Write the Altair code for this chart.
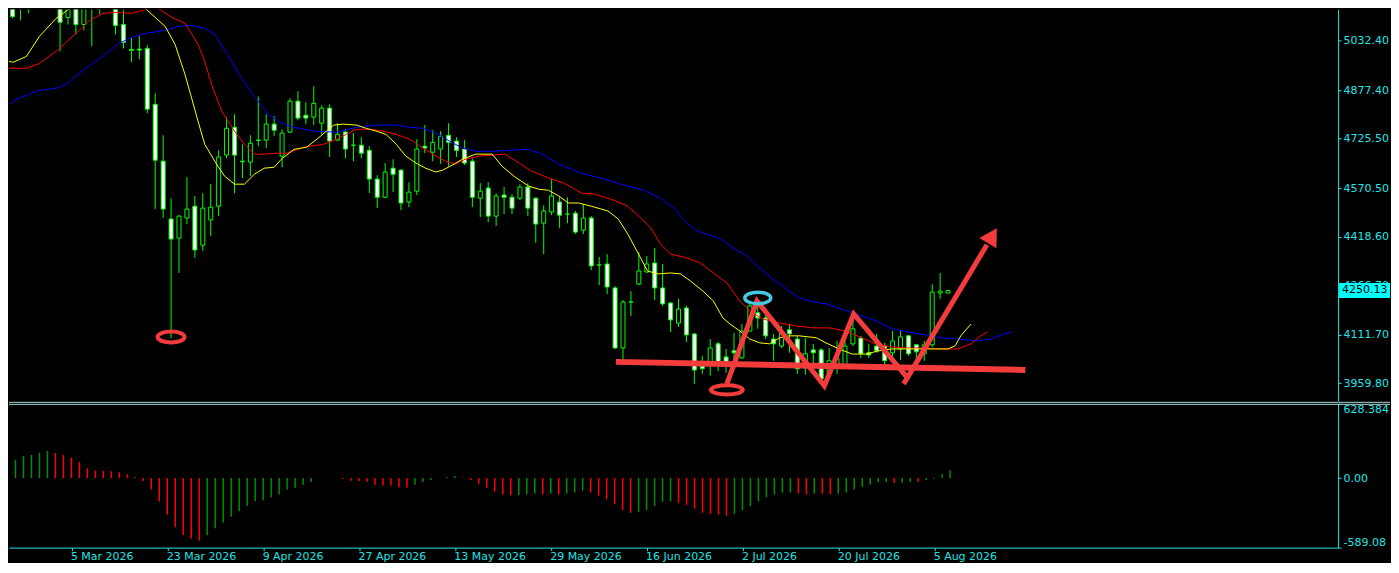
import altair as alt
import pandas as pd

# ---- candles (bar 0 = oldest visible bar) ----
opens = [5187, 5175, 5160, 5170, 5200, 5215, 5195, 5105, 5149, 5083,
         5175, 5165, 5170, 5185, 5083, 5005, 5006, 5008, 4833, 4655,
         4474, 4414, 4477, 4514, 4392, 4471, 4514, 4674, 4761, 4655,
         4652, 4721, 4721, 4771, 4671, 4746, 4843, 4799, 4793, 4774,
         4821, 4721, 4746, 4705, 4705, 4689, 4599, 4542, 4633, 4627,
         4527, 4561, 4702, 4683, 4693, 4736, 4718, 4693, 4655, 4539,
         4571, 4483, 4549, 4542, 4539, 4574, 4539, 4461, 4496, 4527,
         4489, 4492, 4439, 4477, 4330, 4333, 4258, 4070, 4214, 4270,
         4308, 4336, 4258, 4211, 4148, 4195, 4114, 4014, 4026, 4083,
         4042, 4061, 4039, 4123, 4180, 4164, 4098, 4076, 4127, 4098,
         4008, 4064, 4064, 3989, 4014, 4014, 4083, 4101, 4055, 4076,
         4076, 4055, 4067, 4108, 4080, 4052, 4080, 4242, 4242]
highs = [5218, 5190, 5170, 5205, 5230, 5240, 5210, 5160, 5165, 5180,
         5190, 5185, 5200, 5195, 5130, 5040, 5046, 5018, 4868, 4736,
         4539, 4486, 4605, 4546, 4555, 4583, 4689, 4793, 4802, 4708,
         4736, 4858, 4802, 4796, 4755, 4852, 4874, 4840, 4890, 4830,
         4833, 4774, 4755, 4743, 4730, 4702, 4611, 4649, 4661, 4630,
         4589, 4724, 4768, 4752, 4749, 4774, 4730, 4721, 4664, 4586,
         4589, 4555, 4574, 4552, 4583, 4586, 4542, 4517, 4599, 4546,
         4542, 4499, 4521, 4483, 4355, 4364, 4264, 4220, 4248, 4370,
         4358, 4383, 4333, 4214, 4224, 4202, 4117, 4045, 4098, 4089,
         4067, 4117, 4145, 4211, 4211, 4195, 4114, 4139, 4145, 4108,
         4102, 4083, 4070, 4070, 4092, 4108, 4155, 4108, 4083, 4114,
         4086, 4123, 4123, 4111, 4083, 4092, 4270, 4305, 4252]
lows = [5102, 5096, 5118, 5133, 5165, 5175, 4999, 5083, 5052, 5065,
        5015, 5115, 5162, 5052, 5008, 4965, 4974, 4805, 4505, 4477,
        4101, 4305, 4458, 4352, 4374, 4421, 4483, 4664, 4555, 4602,
        4608, 4702, 4696, 4733, 4636, 4743, 4783, 4771, 4768, 4739,
        4668, 4718, 4664, 4655, 4664, 4555, 4508, 4539, 4558, 4502,
        4511, 4549, 4680, 4655, 4646, 4639, 4668, 4643, 4511, 4480,
        4464, 4452, 4489, 4489, 4533, 4483, 4399, 4364, 4486, 4446,
        4461, 4427, 4427, 4314, 4267, 4239, 4067, 4033, 4170, 4267,
        4305, 4220, 4202, 4120, 4136, 4089, 3958, 3989, 3983, 3998,
        3992, 4008, 4036, 4123, 4130, 4098, 4030, 4070, 4055, 3989,
        3986, 4008, 3967, 3976, 3989, 4005, 4076, 4039, 4039, 4055,
        4020, 4030, 4033, 4045, 4026, 4030, 4073, 4224, 4242]
closes = [5108, 5146, 5146, 5195, 5215, 5190, 5090, 5143, 5083, 5165,
          5137, 5149, 5190, 5080, 5027, 5002, 5003, 4818, 4658, 4505,
          4411, 4483, 4505, 4377, 4508, 4511, 4668, 4758, 4674, 4653,
          4711, 4720, 4771, 4752, 4743, 4843, 4790, 4790, 4836, 4821,
          4718, 4739, 4693, 4705, 4680, 4599, 4542, 4621, 4614, 4524,
          4558, 4693, 4696, 4714, 4733, 4714, 4689, 4649, 4542, 4561,
          4483, 4546, 4542, 4508, 4574, 4508, 4458, 4499, 4546, 4486,
          4489, 4433, 4477, 4327, 4330, 4261, 4070, 4214, 4214, 4311,
          4333, 4258, 4208, 4158, 4192, 4111, 4001, 4005, 4070, 4020,
          4023, 4055, 4123, 4202, 4164, 4108, 4083, 4117, 4114, 4005,
          4052, 4055, 3973, 4030, 4036, 4076, 4130, 4052, 4048, 4061,
          4030, 4092, 4105, 4052, 4058, 4080, 4245, 4248, 4250.13]

# ---- Alligator lines (bar position, price) ----
lips_bar = [-0.75, 0.1, 1.75, 3.4, 5.5, 7.6, 9.6, 11.75, 13, 15.1, 16.75, 19.25, 20.5,
            21.75, 22.6, 23.4, 24.25, 25.5, 26.75, 28, 29.25, 30.5, 31.75, 33, 33.9,
            35.5, 37.1, 38.4, 39.6, 40.5, 41.75, 43.4, 44.6, 45.9, 47.1, 48.4, 49.6,
            50.9, 52.1, 53.4, 54.25, 55.5, 56.75, 58.4, 60.5, 61.75, 63.4, 65.1, 66.4,
            67.6, 68.9, 70.1, 71.4, 73, 75.1, 76.4, 77.6, 78.9, 80.1, 81.4, 83, 84.25,
            85.5, 87.1, 88.4, 89.6, 90.5, 91.75, 93, 94.25, 95.5, 96.75, 98, 99.25,
            101.4, 102.6, 104.25, 105.9, 107.6, 109.25, 110.9, 112.6, 114.25, 116.4,
            118, 118.9, 119.6, 120.9]
lips_price = [4968, 4965, 4983, 5046, 5102, 5140, 5155, 5155, 5146, 5155, 5133, 5077, 5021,
              4927, 4852, 4780, 4708, 4655, 4608, 4583, 4583, 4614, 4633, 4636, 4661,
              4692, 4699, 4724, 4749, 4768, 4771, 4768, 4758, 4749, 4739, 4708, 4671,
              4649, 4633, 4621, 4627, 4643, 4661, 4677, 4677, 4639, 4605, 4577, 4567,
              4564, 4546, 4524, 4524, 4514, 4499, 4474, 4427, 4367, 4311, 4302, 4305, 4302,
              4280, 4248, 4217, 4164, 4145, 4123, 4098, 4086, 4083, 4102, 4108, 4108,
              4102, 4086, 4067, 4051, 4051, 4061, 4067, 4067, 4067, 4067,
              4067, 4077, 4108, 4145]
teeth_bar = [-0.75, 1.75, 3.4, 5.5, 7.6, 9.6, 11.4, 13, 15.1, 17.1, 18.4, 20.1, 21.75,
             23.4, 24.25, 25.1, 26.4, 28, 29.25, 30.5, 31.75, 33.4, 34.6, 36.4, 37.6,
             39.25, 40.9, 42.1, 43.4, 45.1, 46.75, 48.4, 50.1, 51.4, 53, 54.6, 55.9,
             57.1, 58.9, 60.5, 62.1, 63.9, 65.5, 67.6, 69.6, 71.75, 73.4, 75.5, 77.6,
             79.25, 80.5, 81.75, 83, 85.1, 86.75, 88.4, 90.1, 91.75, 93, 94.6, 96.75,
             98.9, 100.9, 103, 105.1, 107.1, 108.9, 110.9, 113, 115.1, 117.1, 119.25,
             120.9, 122.1, 123]
teeth_price = [4946, 4946, 4961, 4999, 5046, 5093, 5118, 5121, 5118, 5133, 5133, 5105, 5087,
               5021, 4968, 4896, 4811, 4749, 4708, 4677, 4677, 4680, 4680, 4696, 4702,
               4708, 4724, 4739, 4755, 4755, 4749, 4739, 4724, 4702, 4677, 4655, 4646,
               4661, 4671, 4674, 4677, 4649, 4624, 4602, 4586, 4555, 4552, 4536, 4514,
               4477, 4446, 4395, 4364, 4352, 4336, 4305, 4274, 4217, 4186, 4161, 4148,
               4139, 4133, 4133, 4123, 4102, 4083, 4073, 4070, 4070, 4067, 4067,
               4083, 4108, 4120]
jaw_bar = [-0.75, 0.5, 1.75, 3.4, 5.5, 6.75, 8.4, 10.1, 11.75, 13.4, 15.1, 16.75, 19.25,
           20.9, 22.6, 24.25, 25.5, 27.1, 28.9, 30.5, 32.1, 33.9, 35.5, 38, 40.9, 43.4,
           45.9, 48.4, 50.1, 51.75, 53.4, 55.1, 56.75, 58.4, 60.5, 65.1, 66.75, 68.9,
           71.75, 74.25, 76.75, 79.6, 81.75, 83.4, 85.1, 86.4, 88.4, 89.25, 90.9, 92.6,
           94.25, 95.9, 97.6, 99.25, 100.5, 102.6, 104.6, 106.75, 108.9, 110.9, 113,
           115.1, 117.1, 119.25, 121.75, 123.4, 125.1, 126]
jaw_price = [4827, 4849, 4861, 4877, 4883, 4896, 4930, 4961, 4990, 5024, 5043, 5055, 5065,
             5077, 5080, 5071, 5052, 4990, 4915, 4858, 4805, 4774, 4761, 4749, 4746, 4761,
             4768, 4768, 4761, 4758, 4743, 4718, 4696, 4686, 4686, 4692, 4677, 4646,
             4617, 4602, 4583, 4564, 4539, 4508, 4461, 4436, 4420, 4411, 4383, 4358,
             4320, 4286, 4255, 4227, 4217, 4208, 4192, 4173, 4155, 4130, 4120,
             4111, 4102, 4098, 4092, 4098, 4114, 4120]

# ---- oscillator histogram ----
ao_values = [131, 155, 188, 196, 212, 229, 212, 196, 172, 139,
             82, 63, 60, 57, 49, 33, 8, -25, -98, -196,
             -310, -417, -482, -515, -531, -482, -425, -376, -327, -278,
             -237, -196, -188, -163, -139, -98, -82, -57, -33, 0,
             0, 0, -8, -22, -25, -33, -57, -63, -65, -80,
             -82, -57, -33, -16, 0, 8, 16, 5, -16, -49,
             -82, -114, -139, -147, -145, -139, -131, -139, -131, -139,
             -131, -123, -106, -123, -147, -180, -221, -270, -294, -286,
             -270, -237, -200, -196, -212, -229, -261, -294, -302, -310,
             -319, -302, -270, -237, -196, -163, -139, -125, -123, -131,
             -139, -131, -133, -139, -131, -123, -98, -74, -57, -35,
             -33, -41, -40, -33, -34, -16, -6, 33, 65]
ao_colour = list("ggggggrrrr" "rrrrrrrrrr" "rrrrrggggg" "gggggggggg" "ggrrrrrrrr"
                 "rggggggrrr" "rrrrgggrgr" "gggrrrrrrg" "ggggrrrrrr" "rggggggggr"
                 "rgrrgggggg" "grggrgggg")

# ---- axes ----
tick_bars = [8, 20, 32, 44, 56, 68, 80, 92, 104, 116]
tick_dates = ["5 Mar 2026", "23 Mar 2026", "9 Apr 2026", "27 Apr 2026", "13 May 2026",
              "29 May 2026", "16 Jun 2026", "2 Jul 2026", "20 Jul 2026", "5 Aug 2026"]
price_ticks = [5032.40, 4877.40, 4725.50, 4570.50, 4418.60, 4266.70, 4111.70, 3959.80]
osc_ticks = [628.384, 0.0, -589.08]
last_price = 4250.13

# ---- drawing objects placed on the chart (bar, price) ----
support_bar = [76.1, 127.75]
support_price = [4026.5, 4001.4]
zigzag_bar = [90.1, 93.9, 102.4, 106.1, 113.0]
zigzag_price = [3957.7, 4217.2, 3951.4, 4176.5, 3973.3]
arrow_bar = [112.4, 122.9]
arrow_price = [3957.7, 4393.0]
arrow_head_bar = [123.4]
arrow_head_price = [4414.0]
red_ring_bar = [20.0]
red_ring_price = [4104.6]
low_ring_bar = [90.1]
low_ring_price = [3938.9]
top_ring_bar = [94.0]
top_ring_price = [4226.6]

FG = "#22e4e4"
LIME = "#00ff00"
RED = "#f53c3c"
SEP = "#a8d8d8"
FONT = "DejaVu Sans"
W = 1331          # plot width, 8 px per bar
RIGHT = 1383      # total drawing width so the page does not overflow

xs = alt.Scale(domain=[0.1875, 0.1875 + W / 8], nice=False, zero=False)
ys = alt.Scale(domain=[3904.5, 5130.3], nice=False, zero=False)
os_ = alt.Scale(domain=[-589.08, 628.384], nice=False, zero=False)


def ellipse(ratio):
    return f"M-1,0A1,{ratio} 0 1,1 1,0A1,{ratio} 0 1,1 -1,0Z"


def xy(bars, prices):
    return pd.DataFrame({"k": bars, "p": prices})


price_axis = alt.Axis(orient="right", values=price_ticks, format=".2f", title=None,
                      grid=False, labelColor=FG, tickColor=FG, domainColor=FG,
                      tickSize=3, labelPadding=2, labelFont=FONT, labelFontSize=11,
                      labelOverlap=False, labelFlush=False, labelBound=False)

X = alt.X("k:Q", scale=xs, axis=None)
Yp = alt.Y("p:Q", scale=ys, axis=price_axis)

candles = pd.DataFrame({"o": opens, "h": highs, "l": lows, "c": closes})
candles["k"] = range(len(candles))

wicks = alt.Chart(candles).mark_rule(color=LIME, strokeWidth=1, clip=True).encode(
    x=X, y=alt.Y("l:Q", scale=ys, axis=price_axis), y2="h:Q")
bodies = alt.Chart(candles).mark_bar(size=4, stroke=LIME, strokeWidth=1, clip=True).encode(
    x=X, y=alt.Y("o:Q", scale=ys, axis=price_axis), y2="c:Q",
    fill=alt.condition("datum.c > datum.o", alt.value("black"), alt.value("white")))

jaw = alt.Chart(xy(jaw_bar, jaw_price)).mark_line(color="#0000ff", strokeWidth=1, clip=True).encode(x=X, y=Yp)
teeth = alt.Chart(xy(teeth_bar, teeth_price)).mark_line(color="#ff0000", strokeWidth=1, clip=True).encode(x=X, y=Yp)
lips = alt.Chart(xy(lips_bar, lips_price)).mark_line(color="#ffff00", strokeWidth=1, clip=True).encode(x=X, y=Yp)

support = alt.Chart(xy(support_bar, support_price)).mark_line(
    color=RED, strokeWidth=6, strokeCap="butt", clip=True).encode(x=X, y=Yp)
zigzag = alt.Chart(xy(zigzag_bar, zigzag_price)).mark_line(
    color=RED, strokeWidth=5, strokeJoin="miter", clip=True).encode(x=X, y=Yp, order="k:Q")
arrow = alt.Chart(xy(arrow_bar, arrow_price)).mark_line(
    color=RED, strokeWidth=5, clip=True).encode(x=X, y=Yp)
head = alt.Chart(xy(arrow_head_bar, arrow_head_price)).mark_point(
    shape="triangle", angle=31, size=400, filled=True, color=RED, opacity=1, clip=True).encode(x=X, y=Yp)
ring1 = alt.Chart(xy(red_ring_bar, red_ring_price)).mark_point(
    shape=ellipse(0.41), size=729, filled=False, color=RED, strokeWidth=4, opacity=1, clip=True).encode(x=X, y=Yp)
ring2 = alt.Chart(xy(low_ring_bar, low_ring_price)).mark_point(
    shape=ellipse(0.29), size=1024, filled=False, color=RED, strokeWidth=4, opacity=1, clip=True).encode(x=X, y=Yp)
ring3 = alt.Chart(xy(top_ring_bar, top_ring_price)).mark_point(
    shape=ellipse(0.44), size=676, filled=False, color="#44c8e4", strokeWidth=3.5, opacity=1, clip=True).encode(x=X, y=Yp)

last = pd.DataFrame({"p": [last_price], "label": [f"{last_price:.2f}"]})
box_w = RIGHT - W - 1
box = alt.Chart(last).mark_point(
    shape=f"M0,-{7.5 / box_w:.4f}L1,-{7.5 / box_w:.4f}L1,{7.5 / box_w:.4f}L0,{7.5 / box_w:.4f}Z",
    size=(2 * box_w) ** 2, filled=True, color="#00ffff", opacity=1, strokeWidth=0).encode(
    x=alt.value(W + 1), y=Yp)
box_text = alt.Chart(last).mark_text(
    align="left", baseline="middle", color="black", font=FONT, fontSize=11).encode(
    x=alt.value(W + 4), y=Yp, text="label:N")
upper_edge = alt.Chart(last).mark_rule(color=SEP, strokeWidth=1).encode(
    x=alt.value(0), x2=alt.value(RIGHT), y=alt.value(393.5))

upper = alt.layer(wicks, bodies, jaw, teeth, lips, support, zigzag, arrow, head,
                  ring1, ring2, ring3, box, box_text, upper_edge).properties(width=W, height=392)

osc = pd.DataFrame({"v": ao_values, "d": ao_colour})
osc["k"] = range(len(osc))
osc["base"] = 0

label_expr = " : ".join(f"datum.value == {b} ? '{d}'" for b, d in zip(tick_bars, tick_dates)) + " : ''"
date_axis = alt.Axis(values=tick_bars, labelExpr=label_expr, labelAlign="left", title=None,
                     grid=False, labelColor=FG, tickColor=FG, domainColor=FG, tickSize=3,
                     labelPadding=0, labelOffset=-1, labelFont=FONT, labelFontSize=11,
                     labelOverlap=False, labelFlush=False, labelBound=False)
osc_axis = alt.Axis(orient="right", values=osc_ticks, title=None, grid=False,
                    labelExpr="datum.value > 0 ? format(datum.value, '.3f') : "
                              "(datum.value < 0 ? '-' + format(-datum.value, '.2f') : '0.00')",
                    labelColor=FG, tickColor=FG, domainColor=FG, tickSize=3, labelPadding=2,
                    labelFont=FONT, labelFontSize=11, labelOverlap=False, labelFlush=True)

hist = alt.Chart(osc).mark_rule(strokeWidth=1.5, clip=True).encode(
    x=alt.X("k:Q", scale=xs, axis=date_axis),
    y=alt.Y("base:Q", scale=os_, axis=osc_axis), y2="v:Q",
    color=alt.Color("d:N", scale=alt.Scale(domain=["g", "r"], range=["#009000", "#ff0000"]), legend=None))
lower_edge = alt.Chart(last).mark_rule(color=SEP, strokeWidth=1).encode(
    x=alt.value(0), x2=alt.value(RIGHT), y=alt.value(0.5))

lower = alt.layer(hist, lower_edge).properties(width=W, height=144)

chart = alt.vconcat(upper, lower, spacing=3).resolve_scale(y="independent").properties(
    padding=0, bounds="flush"
).configure(background="black", font=FONT).configure_view(stroke="transparent")

chart.save("out.html", embed_options={"renderer": "svg", "actions": False})
